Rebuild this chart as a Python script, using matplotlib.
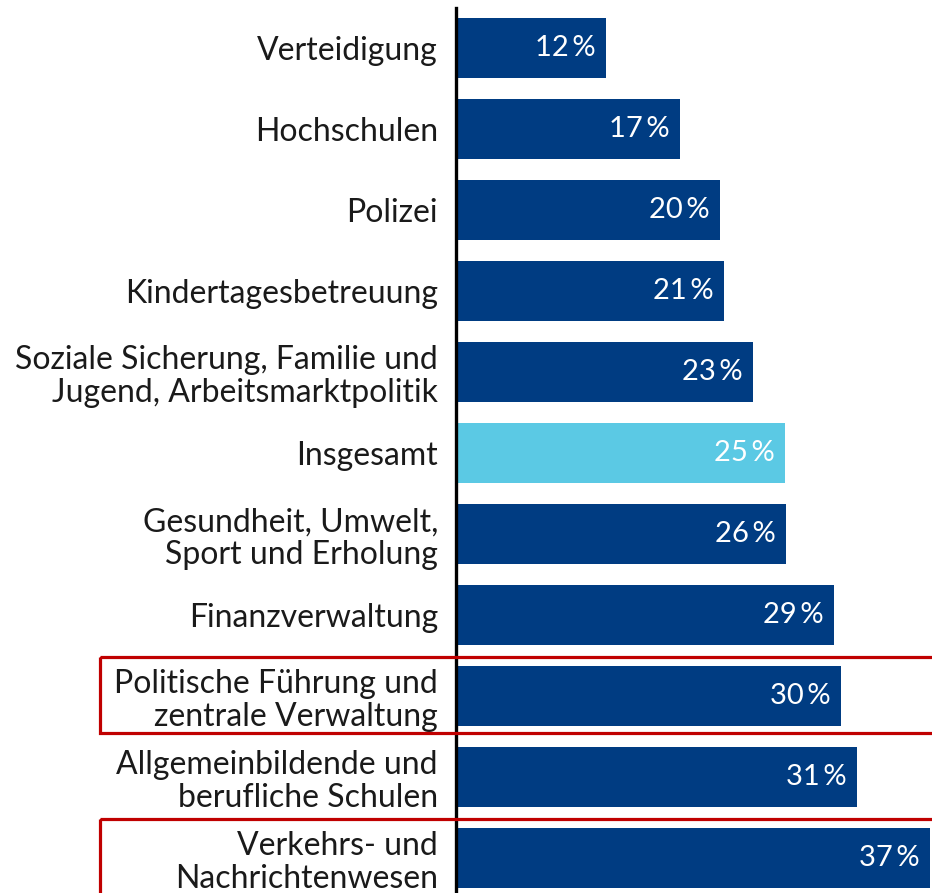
import matplotlib.pyplot as plt
import matplotlib.transforms as mtransforms
from matplotlib.patches import Rectangle

plt.rcParams['font.family'] = ['Lato', 'DejaVu Sans']

categories = [
    "Verteidigung",
    "Hochschulen",
    "Polizei",
    "Kindertagesbetreuung",
    "Soziale Sicherung, Familie und\nJugend, Arbeitsmarktpolitik",
    "Insgesamt",
    "Gesundheit, Umwelt,\nSport und Erholung",
    "Finanzverwaltung",
    "Politische Führung und\nzentrale Verwaltung",
    "Allgemeinbildende und\nberufliche Schulen",
    "Verkehrs- und\nNachrichtenwesen",
]
shares = [11.7, 17.5, 20.6, 20.9, 23.2, 25.7, 25.8, 29.5, 30.1, 31.3, 37.0]
printed = [12, 17, 20, 21, 23, 25, 26, 29, 30, 31, 37]
highlight_total = "Insgesamt"
boxed = ["Politische Führung und\nzentrale Verwaltung", "Verkehrs- und\nNachrichtenwesen"]

dark_blue = "#003C82"
light_blue = "#5BC9E4"
red = "#C00000"

fig = plt.figure(figsize=(9.32, 8.93), dpi=100)
ax = fig.add_axes([456 / 932, 0, 476 / 932, 1 - 8 / 893])

ys = list(range(len(categories)))
colors = [light_blue if c == highlight_total else dark_blue for c in categories]
ax.barh(ys, shares, height=0.74, color=colors)

for y, v, p in zip(ys, shares, printed):
    ax.text(v - 0.8, y, f"{p}\u2009%", color="white", fontsize=21,
            ha="right", va="center")

ax.set_xlim(0, 37.19)
ax.set_ylim(10.43, -0.494)
ax.set_yticks(ys)
ax.set_yticklabels(categories, fontsize=23, linespacing=1.12, color="#1a1a1a")
ax.tick_params(axis="y", length=0, pad=13)
ax.set_xticks([])
for s in ["top", "right", "bottom"]:
    ax.spines[s].set_visible(False)
ax.spines["left"].set_linewidth(2.4)
ax.spines["left"].set_color("black")

# red boxes around the highlighted rows
trans = mtransforms.blended_transform_factory(fig.transFigure, ax.transData)
for c in boxed:
    i = categories.index(c)
    ax.add_patch(Rectangle((100 / 932, i - 0.48), 1.0, 0.93, transform=trans,
                           fill=False, edgecolor=red, linewidth=2.3,
                           clip_on=False, zorder=5))

fig.savefig("out.png", dpi=100)
